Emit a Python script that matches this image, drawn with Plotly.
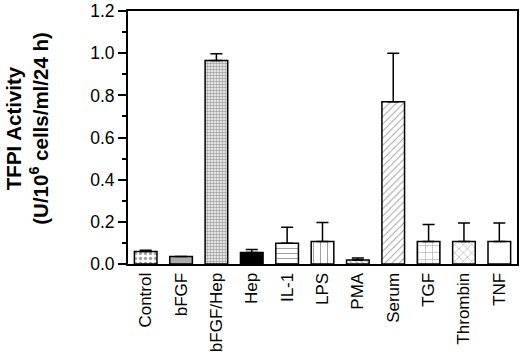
import plotly.graph_objects as go

categories = ["Control", "bFGF", "bFGF/Hep", "Hep", "IL-1", "LPS", "PMA", "Serum", "TGF", "Thrombin", "TNF"]
values = [0.059, 0.036, 0.965, 0.055, 0.098, 0.107, 0.019, 0.77, 0.107, 0.107, 0.107]
err_upper = [0.006, 0.0, 0.033, 0.014, 0.076, 0.09, 0.009, 0.23, 0.081, 0.088, 0.088]
y_ticks = [0.0, 0.2, 0.4, 0.6, 0.8, 1.0, 1.2]

shapes = [".", "|", ".", "", "-", "|", "\\", "/", "+", "x", ""]
sizes = [5, 2, 3, 8, 5, 7, 4, 5, 7, 6, 8]
solid = [0.35, 0.4, 0.6, 0.3, 0.2, 0.15, 0.3, 0.2, 0.15, 0.18, 0.3]
bg = ["white", "#c4c4c4", "white", "black", "white", "white", "white", "white", "white", "white", "white"]
fg = ["black", "#909090", "black", "black", "black", "black", "black", "black", "black", "black", "black"]

fig = go.Figure()
fig.add_trace(go.Bar(
    x=categories, y=values,
    width=0.64,
    marker=dict(
        color=bg,
        line=dict(color="black", width=1.5),
        pattern=dict(shape=shapes, size=sizes, solidity=solid, fgcolor=fg, bgcolor=bg, fillmode="overlay"),
    ),
    error_y=dict(type="data", symmetric=False, array=err_upper, arrayminus=[0] * len(values),
                 color="black", thickness=1.5, width=6),
))

fig.update_layout(
    width=520, height=352,
    margin=dict(l=128, r=3, t=11, b=88, autoexpand=False),
    paper_bgcolor="white", plot_bgcolor="white",
    font=dict(family="Liberation Sans, Arial, sans-serif", size=18, color="black"),
    showlegend=False,
)
fig.update_xaxes(
    showline=True, linecolor="black", linewidth=2, mirror=True,
    ticks="", tickangle=-90, tickfont=dict(size=17), automargin=False,
    range=[-0.5, len(categories) - 0.5],
)
fig.update_yaxes(
    range=[0, 1.2004], tickvals=y_ticks, ticktext=[f"{v:.1f}" for v in y_ticks],
    showline=True, linecolor="black", linewidth=2, mirror=True,
    ticks="outside", ticklen=8, tickwidth=1.5, tickcolor="black",
    minor=dict(ticks="outside", ticklen=4, tickwidth=1.5, tickcolor="black", dtick=0.1, showgrid=False),
    showgrid=False, zeroline=False, tickfont=dict(size=17.5), automargin=False,
)
fig.add_annotation(
    text="<b>TFPI Activity</b><br><b>(U/10<sup>6</sup> cells/ml/24 h)</b>",
    xref="paper", yref="paper", x=-0.19, y=0.535, xanchor="right", yanchor="middle",
    textangle=-90, showarrow=False, font=dict(size=20.5), align="center",
)

fig.write_html("out.html", config={"displayModeBar": False},
               post_script="document.body.style.margin='0';")
